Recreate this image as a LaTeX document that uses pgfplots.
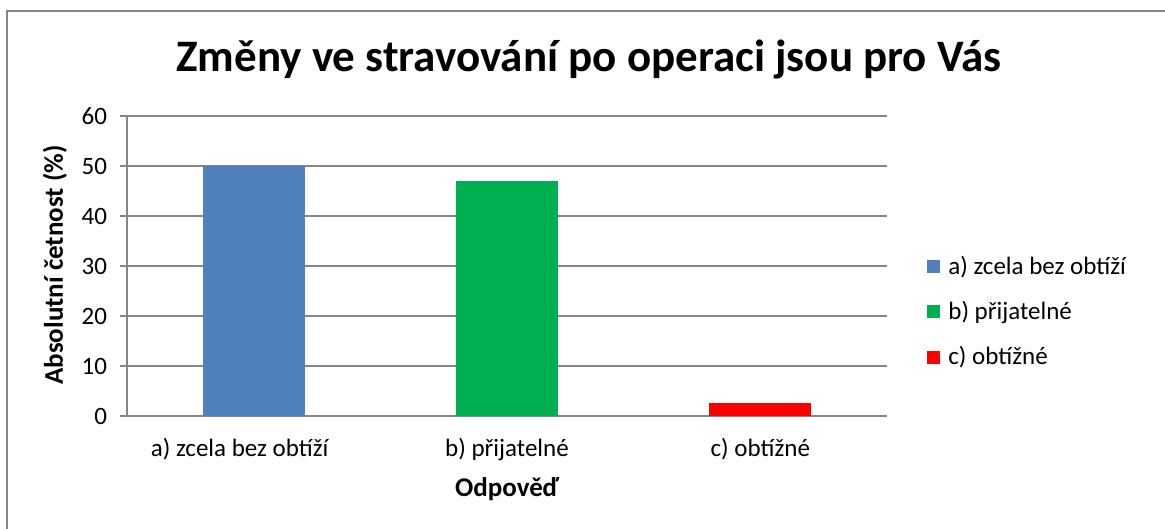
\documentclass[border=0pt]{standalone}
\usepackage{fontspec}
\setmainfont{Carlito}
\usepackage{pgfplots}
\pgfplotsset{compat=1.18}
\definecolor{cblue}{RGB}{79,129,189}
\definecolor{cgreen}{RGB}{0,176,80}
\definecolor{cred}{RGB}{255,0,0}
\definecolor{gridgray}{RGB}{134,134,134}
\definecolor{framegray}{RGB}{134,134,134}
\begin{document}
\begin{tikzpicture}
\begin{axis}[
  at={(0pt,0pt)}, anchor=south west,
  scale only axis,
  width=380pt, height=150pt,
  xmin=-0.5, xmax=2.5,
  ymin=0, ymax=60,
  ytick={0,10,...,60},
  xtick={0,1,2},
  xticklabels={{a) zcela bez obtíží\hspace*{14pt}}, b) přijatelné, c) obtížné},
  ymajorgrids,
  grid style={gridgray, line width=0.6pt},
  axis x line*=bottom,
  axis y line*=left,
  x axis line style={draw=gridgray, line width=1pt, -},
  y axis line style={draw=gridgray, line width=0.6pt, -},
  xtick style={draw=none},
  ytick style={draw=gridgray, line width=0.6pt},
  tick align=outside,
  major tick length=3.5pt,
  tick label style={font=\fontsize{12.5}{15}\selectfont, text=black},
  /pgf/number format/assume math mode=true,
  yticklabel style={xshift=-3pt},
  xticklabel style={yshift=-4pt},
  xlabel={Odpověď},
  xlabel style={at={(axis description cs:0.5,0)}, anchor=base, yshift=-40pt, font=\fontsize{13.5}{16}\selectfont\bfseries},
  ybar, bar width=51pt,
  legend style={draw=none, fill=none, inner sep=0pt,
    at={(axis description cs:1.0526,0.3467)}, anchor=west,
    row sep=8pt, cells={anchor=west},
    font=\fontsize{12.5}{15}\selectfont},
  legend image code/.code={\fill[#1] (0pt,-3.25pt) rectangle (6.5pt,3.25pt); \path (8.5pt,0pt);},
]
\addplot[fill=cblue, draw=none, bar shift=0pt] coordinates {(0,50)};
\addlegendentry{a) zcela bez obtíží}
\addplot[fill=cgreen, draw=none, bar shift=0pt] coordinates {(1,47)};
\addlegendentry{b) přijatelné}
\addplot[fill=cred, draw=none, bar shift=0pt] coordinates {(2,2.6)};
\addlegendentry{c) obtížné}
\end{axis}
\node[rotate=90, anchor=base, font=\fontsize{13.5}{16}\selectfont\bfseries] at (-32pt,75.5pt) {Absolutní četnost (\%)};
\node[anchor=base, font=\fontsize{22.5}{27}\selectfont\bfseries] at (231pt,172pt) {Změny ve stravování po operaci jsou pro Vás};
\draw[framegray, line width=1pt] (-60pt,-80pt) -- (-60pt,202.5pt) -- (540pt,202.5pt);
\pgfresetboundingbox
\useasboundingbox (-63.5pt,-56.5pt) rectangle (519pt,208pt);
\end{tikzpicture}
\end{document}
